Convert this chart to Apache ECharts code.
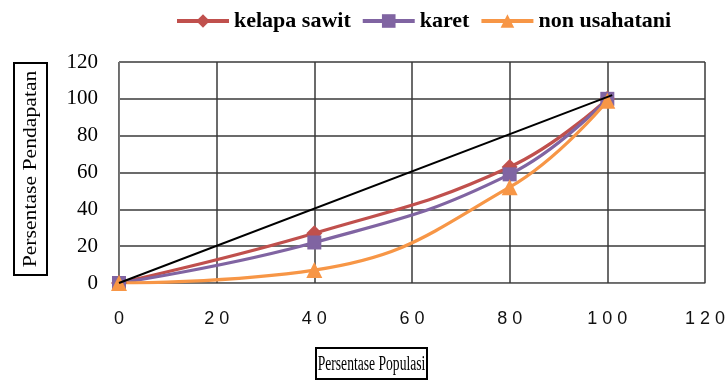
<!DOCTYPE html>
<html><head><meta charset="utf-8">
<script src="https://cdn.jsdelivr.net/npm/echarts@6/dist/echarts.min.js"></script>
<style>html,body{margin:0;padding:0;background:#fff}#c{width:728px;height:380px}</style>
</head><body><div id="c"></div>
<script>
const populasi = [0, 40, 80, 100];
const kelapaSawit = [0, 27, 63, 100];
const karet = [0, 22, 59, 100];
const nonUsahatani = [0, 7, 52, 99];
const garisX = [0, 101];
const garisY = [0, 102];
const seriesNames = ['kelapa sawit', 'karet', 'non usahatani'];
const xTitle = 'Persentase Populasi';
const yTitle = 'Persentase Pendapatan';

const pairs = (xs, ys) => xs.map((x, i) => [x, ys[i]]);
const serif = '"Liberation Serif", "DejaVu Serif", serif';
const sans = '"Liberation Sans", "DejaVu Sans", sans-serif';
const chart = echarts.init(document.getElementById('c'));
const mk = (name, data, color, symbol, size) => ({
  name, type: 'line', data: pairs(populasi, data), smooth: 0.45,
  symbol, symbolSize: size, z: 3,
  lineStyle: { color, width: 3.2 }, itemStyle: { color }
});
chart.setOption({
  animation: false,
  grid: { left: 119, right: 21, top: 62, bottom: 97 },
  legend: {
    top: 5, left: 170, itemWidth: 52, itemHeight: 17, itemGap: 10,
    data: seriesNames,
    lineStyle: { width: 4 },
    textStyle: { fontFamily: serif, fontWeight: 'bold', fontSize: 22, color: '#000' }
  },
  xAxis: {
    type: 'value', min: 0, max: 120, interval: 20,
    axisLine: { show: true, lineStyle: { color: '#777', width: 1 } },
    axisTick: { show: false },
    splitLine: { lineStyle: { color: '#3a3a3a', width: 1.5 } },
    axisLabel: { margin: 27, fontFamily: sans, fontSize: 18, color: '#111',
      formatter: v => String(v).split('').join(' ') }
  },
  yAxis: {
    type: 'value', min: 0, max: 120, interval: 20,
    axisLine: { show: true, lineStyle: { color: '#777', width: 1 } },
    axisTick: { show: false },
    splitLine: { lineStyle: { color: '#3a3a3a', width: 1.5 } },
    axisLabel: { margin: 21, fontFamily: serif, fontSize: 21, color: '#000' }
  },
  graphic: [
    { type: 'rect', z: 10, shape: { x: 14, y: 63, width: 33, height: 212 },
      style: { fill: '#fff', stroke: '#000', lineWidth: 2 } },
    { type: 'text', z: 11, x: 31, y: 169, rotation: Math.PI / 2, scaleX: 1.14,
      style: { text: yTitle, font: '19px ' + serif, fill: '#000', align: 'center', verticalAlign: 'middle' } },
    { type: 'rect', z: 10, shape: { x: 316, y: 348, width: 111, height: 31 },
      style: { fill: '#fff', stroke: '#000', lineWidth: 2 } },
    { type: 'text', z: 11, x: 371.5, y: 365, scaleX: 0.68,
      style: { text: xTitle, font: '20px ' + serif, fill: '#000', align: 'center', verticalAlign: 'middle' } }
  ],
  series: [
    mk(seriesNames[0], kelapaSawit, '#C0504D', 'diamond', 16),
    mk(seriesNames[1], karet, '#8064A2', 'rect', 14),
    mk(seriesNames[2], nonUsahatani, '#F79646', 'triangle', 16),
    { name: 'garis', type: 'line', data: pairs(garisX, garisY), symbol: 'none', z: 4,
      lineStyle: { color: '#000', width: 2 } }
  ]
});
</script></body></html>
